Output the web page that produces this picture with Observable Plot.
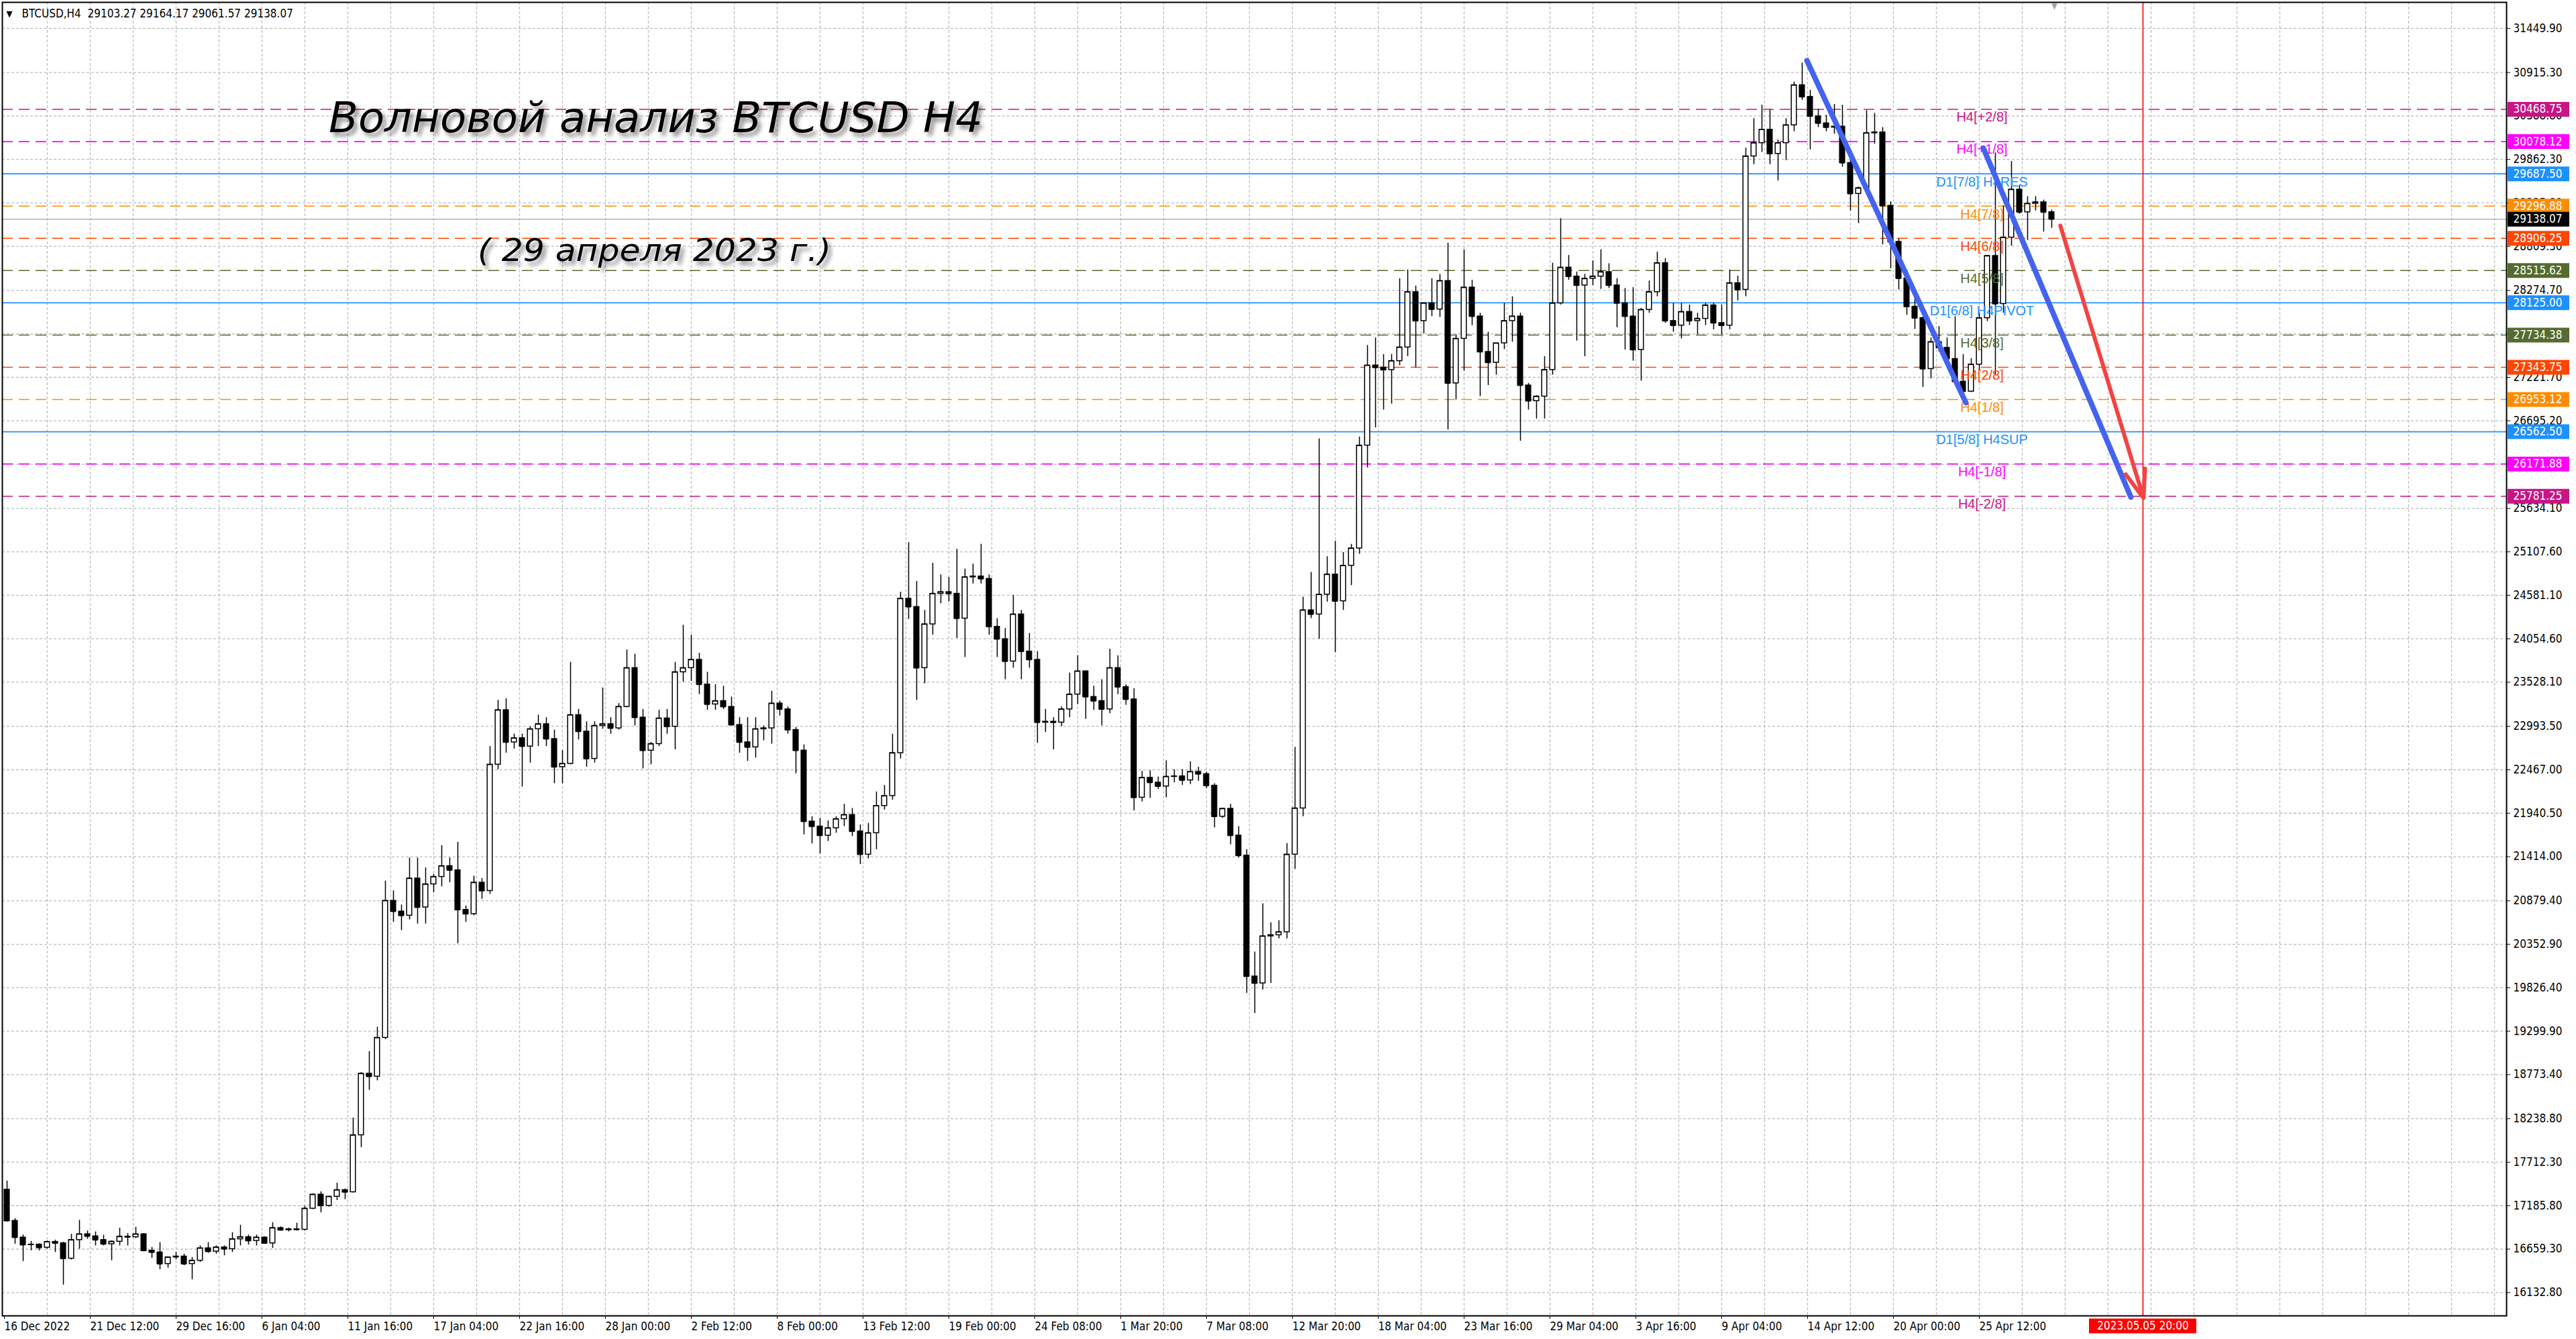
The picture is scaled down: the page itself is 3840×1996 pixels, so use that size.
<!DOCTYPE html>
<html lang="ru">
<head>
<meta charset="utf-8">
<title>Волновой анализ BTCUSD H4</title>
<script src="https://cdn.jsdelivr.net/npm/d3@7"></script>
<script src="https://cdn.jsdelivr.net/npm/@observablehq/plot@0.6"></script>
<style>
  html, body { margin: 0; padding: 0; background: #fff; overflow: hidden; }
  #chart svg { display: block; }
</style>
</head>
<body>
<div id="chart"></div>
<script>
// texts
const header = "BTCUSD,H4  29103.27 29164.17 29061.57 29138.07";
const title = "Волновой анализ BTCUSD H4";
const subtitle = "( 29 апреля 2023 г.)";

// candles, one candle = 3 H4 bars
const openP = [
  17380, 17002, 16800, 16710, 16715, 16677, 16747, 16730, 16545, 16770,
  16840, 16815, 16770, 16720, 16750, 16810, 16805, 16840, 16640, 16620,
  16480, 16560, 16570, 16480, 16520, 16670, 16630, 16680, 16660, 16780,
  16805, 16760, 16800, 16730, 16915, 16890, 16900, 16895, 17150, 17320,
  17185, 17295, 17375, 17350, 18040, 18785, 18750, 19220, 20880, 20750,
  20700, 21150, 20800, 21080, 21170, 21300, 21250, 20770, 20720, 21100,
  21000, 22530, 23190, 22800, 22850, 22750, 22960, 23020, 22840, 22500,
  22540, 23130, 22930, 22600, 23000, 23020, 22970, 23230, 23700, 23100,
  22700, 22780, 23090, 22990, 23650, 23700, 23800, 23500, 23260, 23300,
  23230, 23010, 22800, 22740, 22960, 22970, 23270, 23200, 22950, 22700,
  21840, 21780, 21670, 21760, 21870, 21920, 21720, 21440, 21700, 22030,
  22150, 22670, 24540, 24440, 23700, 24230, 24600, 24620, 24600, 24300,
  24800, 24810, 24780, 24200, 24050, 23780, 24350, 23900, 23800, 23040,
  23050, 23040, 23200, 23380, 23660, 23350, 23300, 23200, 23700, 23470,
  23320, 22130, 22370, 22312, 22266, 22383, 22388, 22340, 22442, 22415,
  22275, 21900, 21995, 21670, 21427, 19963, 19880, 20450, 20464, 20500,
  21440, 22000, 24400, 24350, 24590, 24833, 24510, 24940, 25150, 26396,
  27366, 27340, 27312, 27420, 27585, 28255, 27905, 28120, 28045, 28390,
  27150, 27690, 28310, 27960, 27530, 27400, 27635, 27905, 27960, 27124,
  26935, 26990, 27312, 28120, 28552, 28444, 28336, 28417, 28444, 28498,
  28336, 28120, 27960, 27555, 28040, 28255, 28606, 27905, 27850, 28015,
  27905, 27932, 28094, 27880, 27850, 28363, 28283, 29900, 30061, 30223,
  29930, 30061, 30277, 30762, 30620, 30385, 30300, 30250, 30260, 29820,
  29446, 29514, 30181, 30190, 29300, 28864, 28420, 28078, 27940, 27324,
  27650, 27580, 27445, 27170, 27050, 27377, 27940, 28693, 28112, 28916,
  29497, 29223, 29326, 29343, 29223
];
const highP = [
  17485, 17030, 16830, 16755, 16725, 16760, 16770, 16745, 16840, 17010,
  16880, 16870, 16830, 16760, 16915, 16850, 16925, 16850, 16680, 16740,
  16560, 16620, 16600, 16560, 16700, 16740, 16700, 16700, 16860, 16950,
  16830, 16830, 16810, 16980, 16930, 16915, 16975, 17180, 17330, 17355,
  17300, 17460, 17390, 18250, 18800, 19055, 19350, 21120, 21000, 20830,
  21400, 21400, 21280, 21200, 21550, 21400, 21590, 20820, 21180, 21150,
  22750, 23310, 23330, 22900, 22900, 22990, 23130, 23100, 22950, 22700,
  23770, 23200, 23050, 23050, 23460, 23100, 23270, 23920, 23870, 23200,
  22800, 23190, 23200, 23770, 24220, 24100, 23880, 23650, 23500, 23480,
  23350, 23100, 23100, 23100, 23000, 23420, 23300, 23230, 22980, 22770,
  21900, 21880, 21850, 21900, 22050, 22000, 21800, 21820, 22200, 22280,
  22900, 24620, 25220, 24750, 24400, 24970, 24830, 24800, 25140, 24900,
  24960, 25200, 24830, 24300, 24180, 24580, 24400, 24120, 23900, 23200,
  23100, 23230, 23640, 23850, 23670, 23480, 23560, 23930, 23850, 23500,
  23450, 22450, 22456, 22380, 22578, 22470, 22470, 22565, 22500, 22440,
  22300, 22000, 22050, 21780, 21500, 20260, 20844, 20614, 20640, 21575,
  22740, 24560, 24860, 26477, 25050, 25237, 25100, 25200, 26500, 27609,
  27700, 27500, 27500, 28418, 28525, 28330, 28100, 28418, 28470, 28850,
  27740, 28768, 28400, 28000, 27770, 27600, 28120, 28200, 28000, 27150,
  27000, 27474, 28606, 29145, 28700, 28500, 28470, 28633, 28768, 28600,
  28420, 28300, 28310, 28060, 28390, 28740, 28660, 28120, 28120, 28100,
  28000, 28120, 28120, 28100, 28525, 28450, 30000, 30358, 30520, 30466,
  30100, 30358, 30800, 31031, 30700, 30470, 30400, 30530, 30520, 29900,
  29530, 30455, 30421, 30250, 29350, 28900, 28450, 28180, 27950, 27700,
  27838, 27700, 27958, 27500, 27450, 28000, 28700, 29942, 29300, 29839,
  29549, 29412, 29412, 29370, 29250
];
const lowP = [
  16990, 16720, 16510, 16640, 16640, 16660, 16620, 16225, 16530, 16660,
  16780, 16700, 16700, 16520, 16700, 16700, 16790, 16630, 16550, 16410,
  16430, 16530, 16460, 16290, 16500, 16610, 16600, 16580, 16620, 16700,
  16710, 16700, 16720, 16670, 16880, 16870, 16880, 16880, 17140, 17100,
  17170, 17250, 17260, 17340, 17890, 18585, 18700, 19200, 20620, 20520,
  20650, 20600, 20600, 20980, 21050, 21100, 20360, 20620, 20700, 20900,
  20960, 22470, 22670, 22720, 22260, 22550, 22750, 22750, 22300, 22300,
  22530, 22830, 22500, 22550, 22960, 22900, 22950, 23220, 23000, 22480,
  22530, 22750, 22900, 22710, 23530, 23540, 23380, 23190, 23190, 23200,
  23000, 22670, 22570, 22610, 22820, 22780, 23120, 22900, 22420, 21680,
  21570, 21450, 21600, 21700, 21780, 21660, 21320, 21390, 21500, 21980,
  22100, 22600, 24290, 23310, 23510, 24100, 24480, 24500, 24060, 23830,
  24720, 24720, 24100, 23830, 23560, 23700, 23560, 23700, 22790, 22920,
  22710, 22990, 23100, 23260, 23080, 23190, 23000, 23150, 23380, 23250,
  21970, 22080, 22123, 22230, 22130, 22310, 22280, 22290, 22330, 22240,
  21765, 21880, 21560, 21400, 19760, 19515, 19800, 19880, 20420, 20420,
  21260, 21900, 24300, 24050, 24500, 23890, 24400, 24700, 25080, 26126,
  26611, 26827, 26900, 27366, 27474, 27340, 27750, 27960, 27950, 26585,
  26950, 27300, 27850, 26990, 27124, 27250, 27560, 27650, 26450, 26827,
  26719, 26719, 27250, 28100, 28400, 27663, 27474, 28336, 28290, 28300,
  27825, 27555, 27420, 27177, 28000, 28200, 27880, 27770, 27690, 27850,
  27740, 27850, 27800, 27740, 27800, 28150, 28200, 29800, 29950, 29800,
  29603, 29850, 30200, 30580, 29980, 30250, 30200, 30170, 29770, 29240,
  29087, 29500, 30050, 28830, 28540, 28283, 27975, 27804, 27102, 27205,
  27530, 27390, 27137, 26930, 27040, 27307, 27900, 27256, 28000, 28813,
  29200, 28881, 29240, 28984, 29030
];
const closeP = [
  17002, 16800, 16710, 16715, 16677, 16747, 16730, 16545, 16770, 16840,
  16815, 16770, 16720, 16750, 16810, 16805, 16840, 16640, 16620, 16480,
  16560, 16570, 16480, 16520, 16670, 16630, 16680, 16660, 16780, 16805,
  16760, 16800, 16730, 16915, 16890, 16900, 16895, 17150, 17320, 17185,
  17295, 17375, 17350, 18040, 18785, 18750, 19220, 20880, 20750, 20700,
  21150, 20800, 21080, 21170, 21300, 21250, 20770, 20720, 21100, 21000,
  22530, 23190, 22800, 22850, 22750, 22960, 23020, 22840, 22500, 22540,
  23130, 22930, 22600, 23000, 23020, 22970, 23230, 23700, 23100, 22700,
  22780, 23090, 22990, 23650, 23700, 23800, 23500, 23260, 23300, 23230,
  23010, 22800, 22740, 22960, 22970, 23270, 23200, 22950, 22700, 21840,
  21780, 21670, 21760, 21870, 21920, 21720, 21440, 21700, 22030, 22150,
  22670, 24540, 24440, 23700, 24230, 24600, 24620, 24600, 24300, 24800,
  24810, 24780, 24200, 24050, 23780, 24350, 23900, 23800, 23040, 23050,
  23040, 23200, 23380, 23660, 23350, 23300, 23200, 23700, 23470, 23320,
  22130, 22370, 22312, 22266, 22383, 22388, 22340, 22442, 22415, 22275,
  21900, 21995, 21670, 21427, 19963, 19880, 20450, 20464, 20500, 21440,
  22000, 24400, 24350, 24590, 24833, 24510, 24940, 25150, 26396, 27366,
  27340, 27312, 27420, 27585, 28255, 27905, 28120, 28045, 28390, 27150,
  27690, 28310, 27960, 27530, 27400, 27635, 27905, 27960, 27124, 26935,
  26990, 27312, 28120, 28552, 28444, 28336, 28417, 28444, 28498, 28336,
  28120, 27960, 27555, 28040, 28255, 28606, 27905, 27850, 28015, 27905,
  27932, 28094, 27880, 27850, 28363, 28283, 29900, 30061, 30223, 29930,
  30061, 30277, 30762, 30620, 30385, 30300, 30250, 30260, 29820, 29446,
  29514, 30181, 30190, 29300, 28864, 28420, 28078, 27940, 27324, 27650,
  27580, 27445, 27170, 27050, 27377, 27940, 28693, 28112, 28916, 29497,
  29223, 29326, 29343, 29223, 29138
];

const lastPrice = 29138.07;

// Murrey levels
const levelNames = ["H4[+2/8]", "H4[+1/8]", "D1[7/8] H4RES", "H4[7/8]", "H4[6/8]", "H4[5/8]",
  "D1[6/8] H4PIVOT", "H4[3/8]", "H4[2/8]", "H4[1/8]", "D1[5/8] H4SUP", "H4[-1/8]", "H4[-2/8]"];
const levelValues = [30468.75, 30078.12, 29687.50, 29296.88, 28906.25, 28515.62,
  28125.00, 27734.38, 27343.75, 26953.12, 26562.50, 26171.88, 25781.25];

// axis ticks
const priceTicks = [31449.90, 30915.30, 30388.80, 29862.30, 29335.80, 28809.30, 28274.70, 27748.20,
  27221.70, 26695.20, 26168.70, 25634.10, 25107.60, 24581.10, 24054.60, 23528.10, 22993.50,
  22467.00, 21940.50, 21414.00, 20879.40, 20352.90, 19826.40, 19299.90, 18773.40, 18238.80,
  17712.30, 17185.80, 16659.30, 16132.80];
const timeLabels = ["16 Dec 2022", "21 Dec 12:00", "29 Dec 16:00", "6 Jan 04:00", "11 Jan 16:00",
  "17 Jan 04:00", "22 Jan 16:00", "28 Jan 00:00", "2 Feb 12:00", "8 Feb 00:00", "13 Feb 12:00",
  "19 Feb 00:00", "24 Feb 08:00", "1 Mar 20:00", "7 Mar 08:00", "12 Mar 20:00", "18 Mar 04:00",
  "23 Mar 16:00", "29 Mar 04:00", "3 Apr 16:00", "9 Apr 04:00", "14 Apr 12:00", "20 Apr 00:00",
  "25 Apr 12:00"];
const markerLabel = "2023.05.05 20:00";
const markerBar = 797;

// hand drawn lines (bar index, price)
const blueLines = [
  {x1: 671.75, y1: 31060, x2: 731, y2: 26914},
  {x1: 737.5, y1: 30000, x2: 792.5, y2: 25770}
];
const redArrow = [{x1: 766.2, y1: 29060, x2: 797.2, y2: 25760}];

// ---- styles ----
const levelColors = {
  "H4[+2/8]": "#c71585", "H4[+1/8]": "#ff00ff", "D1[7/8] H4RES": "#1e90ff", "H4[7/8]": "#ff8c00",
  "H4[6/8]": "#ff4500", "H4[5/8]": "#556b2f", "D1[6/8] H4PIVOT": "#1e90ff", "H4[3/8]": "#556b2f",
  "H4[2/8]": "#ff4500", "H4[1/8]": "#ff8c00", "D1[5/8] H4SUP": "#1e90ff", "H4[-1/8]": "#ff00ff",
  "H4[-2/8]": "#c71585"
};
const solidNames = ["D1[7/8] H4RES", "D1[6/8] H4PIVOT", "D1[5/8] H4SUP"];
const axisFont = "'DejaVu Sans Condensed', 'DejaVu Sans', sans-serif";
const labelBar = 737;
const half = 0.95; // half body width, in bars

const candles = closeP.map((c, g) => ({i: 3 * g + 1, o: openP[g], h: highP[g], l: lowP[g], c}));
const levels = levelNames.map((name, k) => ({name, v: levelValues[k], color: levelColors[name], solid: solidNames.includes(name)}));
const timeTicks = timeLabels.map((t, k) => 32 * k);
const timeByBar = new Map(timeTicks.map((b, k) => [b, timeLabels[k]]));

const xMax = 932.5, yMin = 15850.6, yMax = 31765.3;
const fmt = d3.format(".2f");

const plot = Plot.plot({
  width: 3840,
  height: 1996,
  marginLeft: 3,
  marginTop: 3,
  marginRight: 104,
  marginBottom: 35,
  x: {domain: [-0.75, xMax], axis: null},
  y: {domain: [yMin, yMax], axis: null},
  color: {type: "identity"},
  style: {fontFamily: axisFont, fontSize: "17px", background: "#fff", color: "#000"},
  marks: [
    Plot.gridX({ticks: d3.range(16, xMax, 16), stroke: "#bcbcbc", strokeOpacity: 1, strokeWidth: 1.3, strokeDasharray: "4,3"}),
    Plot.gridY({ticks: priceTicks, stroke: "#bcbcbc", strokeOpacity: 1, strokeWidth: 1.3, strokeDasharray: "4,3"}),

    // levels
    Plot.ruleY(levels.filter(d => !d.solid), {y: "v", stroke: "color", strokeWidth: 1.6, strokeDasharray: "16,9"}),
    Plot.ruleY(levels.filter(d => d.solid), {y: "v", stroke: "color", strokeWidth: 1.6}),
    Plot.ruleY([lastPrice], {stroke: "#b4b4b4", strokeWidth: 1.6}),
    Plot.ruleX([markerBar], {stroke: "#ff0000", strokeWidth: 1.6}),

    // candles
    Plot.ruleX(candles, {x: "i", y1: "l", y2: "h", stroke: "#000", strokeWidth: 1.5}),
    Plot.rect(candles, {x1: d => d.i - half, x2: d => d.i + half, y1: "o", y2: "c",
      fill: d => d.c >= d.o ? "#fff" : "#000", stroke: "#000", strokeWidth: 1.5}),
    Plot.ruleY(candles, {y: "c", x1: d => d.i - half, x2: d => d.i + half, stroke: "#000", strokeWidth: 1.5}),

    // level names
    Plot.text(levels, {x: () => labelBar, y: "v", text: "name", fill: "color", dy: 12, fontSize: 20,
      fontFamily: "'Liberation Sans', Arial, sans-serif"}),

    // trend lines
    Plot.link(blueLines, {x1: "x1", y1: "y1", x2: "x2", y2: "y2", stroke: "#4463ee", strokeWidth: 8, strokeLinecap: "round"}),
    Plot.arrow(redArrow, {x1: "x1", y1: "y1", x2: "x2", y2: "y2", stroke: "#f44343", strokeWidth: 6, headLength: 11, headAngle: 40}),

    // titles
    Plot.text([title], {frameAnchor: "top-left", dx: 974, dy: 174, text: d => d, textAnchor: "middle", lineAnchor: "middle",
      fontSize: 62, fontStyle: "italic", fontFamily: axisFont, fill: "#000"}),
    Plot.text([subtitle], {frameAnchor: "top-left", dx: 972, dy: 371, text: d => d, textAnchor: "middle", lineAnchor: "middle",
      fontSize: 46, fontStyle: "italic", fontFamily: axisFont, fill: "#000"}),
    Plot.text(["▼"], {frameAnchor: "top-left", dx: 6, dy: 17, text: d => d, lineAnchor: "middle", textAnchor: "start", fontSize: 13}),
    Plot.text([header], {frameAnchor: "top-left", dx: 29, dy: 17, text: d => d, lineAnchor: "middle", textAnchor: "start", fontSize: 17}),
    Plot.text(["▼"], {x: 764, frameAnchor: "top", dy: 1, text: d => d, lineAnchor: "top", fill: "#a0a0a0", fontSize: 12}),

    // axes
    Plot.axisX({ticks: timeTicks, tickFormat: d => timeByBar.get(d), textAnchor: "start", tickSize: 5, tickPadding: 4, fontSize: 17}),
    Plot.axisY({anchor: "right", ticks: priceTicks, tickFormat: fmt, tickSize: 5, tickPadding: 5, fontSize: 17}),
    Plot.frame({stroke: "#000", strokeWidth: 2}),

    // price boxes on the right axis
    Plot.ruleY(levels, {y: "v", x1: xMax, x2: xMax + 23, dx: 2, stroke: "color", strokeWidth: 22}),
    Plot.ruleY([lastPrice], {x1: xMax, x2: xMax + 23, dx: 2, stroke: "#000", strokeWidth: 22}),
    Plot.text(levels, {x: xMax, y: "v", text: d => fmt(d.v), dx: 10, textAnchor: "start", fill: "#fff", fontSize: 17}),
    Plot.text([lastPrice], {x: xMax, y: d => d, text: d => fmt(d), dx: 10, textAnchor: "start", fill: "#fff", fontSize: 17}),

    // time marker box
    Plot.ruleY([yMin], {x1: markerBar - 20, x2: markerBar + 20, dy: 15, stroke: "#ff0000", strokeWidth: 22}),
    Plot.text([markerLabel], {x: markerBar, frameAnchor: "bottom", dy: 15, text: d => d, lineAnchor: "middle", fill: "#fff", fontSize: 17})
  ]
});

document.getElementById("chart").appendChild(plot);

// stretch the hand-written titles and give them a soft shadow
const stretch = {[title]: 975, [subtitle]: 527};
d3.select(plot).selectAll("text")
  .filter(function () { return stretch[this.textContent] !== undefined; })
  .attr("textLength", function () { return stretch[this.textContent]; })
  .attr("lengthAdjust", "spacingAndGlyphs")
  .style("filter", "drop-shadow(5px 6px 3px rgba(0,0,0,0.45))");
</script>
</body>
</html>
